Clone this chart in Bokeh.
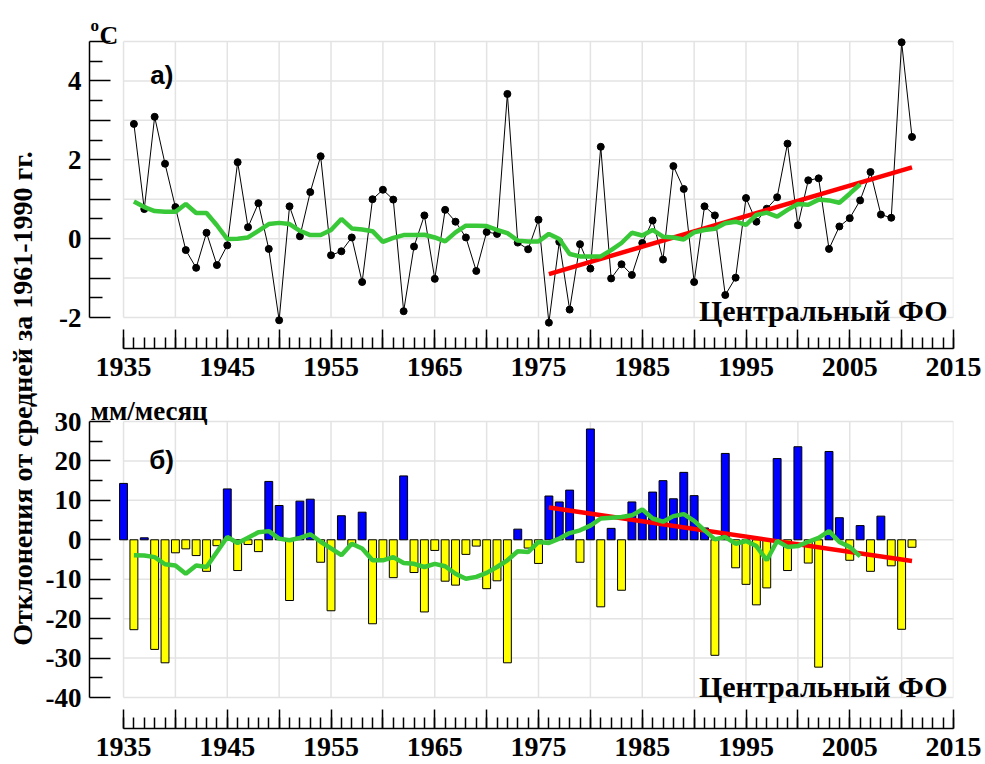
import math

from bokeh.plotting import figure
from bokeh.models import LinearAxis, FixedTicker, Range1d, Label
from bokeh.layouts import row, column
from bokeh.embed import file_html
from bokeh.resources import INLINE
from bokeh.core.properties import value

# ---- data: annual anomalies relative to the 1961-1990 mean, Central Federal District ----
temp_years = list(range(1936, 2012))
temp_anom = [
    2.91, 0.75, 3.09, 1.90, 0.80, -0.29, -0.74, 0.15, -0.67, -0.17,
    1.94, 0.29, 0.90, -0.26, -2.07, 0.82, 0.06, 1.18, 2.09, -0.42,
    -0.32, 0.03, -1.10, 1.00, 1.24, 0.99, -1.84, -0.20, 0.59, -1.02,
    0.73, 0.43, 0.03, -0.82, 0.17, 0.12, 3.67, -0.10, -0.27, 0.48,
    -2.13, -0.08, -1.80, -0.14, -0.76, 2.33, -1.01, -0.65, -0.92, -0.11,
    0.46, -0.53, 1.84, 1.26, -1.10, 0.82, 0.59, -1.43, -0.99, 1.03,
    0.43, 0.76, 1.05, 2.41, 0.34, 1.48, 1.53, -0.26, 0.31, 0.52,
    0.97, 1.69, 0.61, 0.53, 4.98, 2.58,
]
smooth_years = list(range(1936, 2007))
temp_smooth = [
    0.94, 0.80, 0.70, 0.68, 0.68, 0.88, 0.65, 0.65, 0.34, -0.01,
    0.00, 0.03, 0.20, 0.37, 0.40, 0.37, 0.20, 0.09, 0.09, 0.22,
    0.50, 0.26, 0.23, 0.19, -0.08, 0.02, 0.09, 0.09, 0.10, 0.03,
    -0.07, 0.16, 0.33, 0.33, 0.32, 0.22, 0.14, -0.05, -0.07, -0.07,
    0.12, -0.01, -0.39, -0.45, -0.45, -0.45, -0.29, -0.11, 0.15, 0.08,
    0.22, 0.05, 0.03, -0.02, 0.16, 0.22, 0.25, 0.39, 0.43, 0.35,
    0.60, 0.66, 0.56, 0.73, 0.88, 0.86, 0.99, 0.97, 0.91, 1.14,
    1.38,
]
trend_years = [1976, 2011]
temp_trend = [-0.90, 1.81]

precip_years = list(range(1935, 2012))
precip_anom = [
    14.3, -22.8, 0.5, -27.8, -31.2, -3.3, -2.3, -4.0, -8.0, -1.5,
    12.9, -7.8, -1.2, -3.0, 14.8, 8.7, -15.4, 9.8, 10.3, -5.7,
    -18.0, 6.1, -1.5, 7.0, -21.3, -5.2, -9.6, 16.2, -8.3, -18.3,
    -2.7, -10.5, -11.5, -3.7, -1.6, -12.4, -10.4, -31.2, 2.7, -2.1,
    -6.0, 11.1, 9.6, 12.6, -5.7, 28.1, -17.0, 2.9, -12.8, 9.6,
    7.1, 12.1, 15.0, 10.4, 17.1, 11.2, 3.0, -29.3, 21.9, -7.1,
    -11.3, -16.5, -12.2, 20.6, -7.8, 23.6, -5.9, -32.3, 22.4, 5.6,
    -5.2, 3.6, -8.0, 6.0, -6.6, -22.7, -1.9,
]
precip_smooth = [
    -3.9, -4.0, -4.4, -6.2, -6.5, -8.6, -6.5, -6.9, -3.1, 0.7,
    -0.8, 0.5, 1.9, 2.2, 0.3, -0.1, 0.5, 1.4, -0.5, -2.2,
    -3.9, -1.0, -2.2, -5.2, -5.2, -4.4, -5.9, -6.1, -6.9, -6.1,
    -6.7, -8.6, -9.9, -9.4, -8.4, -6.9, -5.2, -2.9, -3.1, -0.55,
    -0.8, 0.3, 1.7, 2.4, 3.6, 5.4, 5.6, 5.8, 6.2, 7.7,
    5.4, 4.6, 6.0, 6.5, 4.8, 2.4, 0.1, 0.7, -1.0, -0.3,
    -1.6, -5.2, -0.3, -1.8, -1.6, -0.5, 0.5, 2.2, -0.55, -1.8,
    -4.2,
]
precip_trend = [8.2, -5.4]

year_first, year_last = 1935, 2015
x_major = list(range(1935, 2016, 5))
x_minor = list(range(1935, 2016))
x_labelled = list(range(1935, 2016, 10))

temp_major = list(range(-2, 6))
temp_minor = [v + 0.5 for v in range(-2, 5)]
temp_labelled = [-2, 0, 2, 4]

precip_major = list(range(-40, 31, 10))
precip_minor = list(range(-35, 30, 10))

region_name = "Центральный ФО"
y_title = "Отклонения от средней за 1961-1990 гг."

GRID = "#e3e3e3"
GREEN = "#38c838"
RED = "#ff0000"
SERIF = "Liberation Serif"
PANEL_W = 945


def style_axis(ax, tick_in, minor_in, font_size):
    ax.axis_line_color = "black"
    ax.axis_line_width = 1.5
    ax.major_tick_in = tick_in
    ax.major_tick_out = 0
    ax.minor_tick_in = minor_in
    ax.minor_tick_out = 0
    ax.major_tick_line_color = "black"
    ax.minor_tick_line_color = "black"
    ax.major_tick_line_width = 1.5
    ax.minor_tick_line_width = 1.5
    ax.major_label_text_font = SERIF
    ax.major_label_text_font_style = "bold"
    ax.major_label_text_font_size = font_size
    ax.major_label_text_color = "black"


def tick_text(ticks, labelled):
    # plain hyphen for negatives, blanks for unlabelled major ticks
    return {v: (str(v) if v in labelled else " ") for v in ticks}


def make_panel(height, borders, x_start, y_start, y_end, y_lo, y_hi, y_major, y_minor, y_labelled):
    left, right, bottom = borders
    p = figure(width=PANEL_W, height=height,
               x_range=Range1d(x_start, year_last), y_range=Range1d(y_start, y_end),
               x_axis_type=None, y_axis_type=None,
               toolbar_location=None, output_backend="svg",
               min_border_left=left, min_border_right=right,
               min_border_top=0, min_border_bottom=bottom)
    p.outline_line_color = None
    p.background_fill_color = "white"
    p.border_fill_color = "white"

    # light grid, bounded to the plotting box
    p.segment(x0=x_major, y0=[y_lo] * len(x_major), x1=x_major, y1=[y_hi] * len(x_major),
              line_color=GRID, line_width=1.5, level="underlay")
    p.segment(x0=[year_first] * len(y_major), y0=y_major, x1=[year_last] * len(y_major), y1=y_major,
              line_color=GRID, line_width=1.5, level="underlay")

    # detached axes with inward ticks
    yax = LinearAxis(ticker=FixedTicker(ticks=y_major, minor_ticks=y_minor), bounds=(y_lo, y_hi))
    yax.major_label_overrides = tick_text(y_major, y_labelled)
    style_axis(yax, 21, 13, "27px")
    yax.major_label_standoff = 8
    p.add_layout(yax, "left")

    xax = LinearAxis(ticker=FixedTicker(ticks=x_major, minor_ticks=x_minor), bounds=(year_first, year_last))
    xax.major_label_overrides = tick_text(x_major, x_labelled)
    style_axis(xax, 19, 11, "28px")
    xax.major_label_standoff = 2
    p.add_layout(xax, "below")
    return p


def note(p, x, y, text, size, font=SERIF, align="left"):
    p.add_layout(Label(x=x, y=y, text=text, text_font=font, text_font_style="bold",
                       text_font_size=size, text_color="black", text_align=align,
                       text_baseline="alphabetic"))


# ---- a) air temperature ----
top = make_panel(388, (46, 32, 40), 1931.72, -2.786, 6.04, -2, 5,
                 temp_major, temp_minor, temp_labelled)
top.line(temp_years, temp_anom, line_color="black", line_width=1)
top.scatter(temp_years, temp_anom, size=7, fill_color="black", line_color="black")
top.line(trend_years, temp_trend, line_color=RED, line_width=4.5)
top.line(smooth_years, temp_smooth, line_color=GREEN, line_width=4.5)

note(top, 1931.82, 5.406, "o", "17px")
note(top, 1932.68, 5.152, "C", "26px")
note(top, 1937.58, 4.163, "а)", "26px", font="Liberation Sans")
note(top, 2014.43, -1.822, region_name, "30px", align="right")

# ---- б) precipitation ----
bottom = make_panel(376, (49, 29, 36), 1931.72, -47.86, 38.37, -40, 30,
                    precip_major, precip_minor, precip_major)
bar_colors = ["#0000ff" if v >= 0 else "#ffff00" for v in precip_anom]
bottom.vbar(x=precip_years, top=precip_anom, bottom=0, width=0.76,
            fill_color=bar_colors, line_color="black", line_width=1)
bottom.line(trend_years, precip_trend, line_color=RED, line_width=4.5)
bottom.line(smooth_years, precip_smooth, line_color=GREEN, line_width=4.5)

note(bottom, 1931.82, 32.54, "мм/месяц", "27px")
note(bottom, 1937.48, 20.11, "б)", "26px", font="Liberation Sans")
note(bottom, 2014.43, -37.21, region_name, "30px", align="right")

# ---- shared vertical title ----
side = figure(width=40, height=764, x_range=Range1d(0, 40), y_range=Range1d(0, 764),
              x_axis_type=None, y_axis_type=None, toolbar_location=None, output_backend="svg",
              min_border=0)
side.outline_line_color = None
side.text(x=[22], y=[366], text=[y_title], angle=math.pi / 2,
          text_font=value(SERIF), text_font_style="bold", text_font_size="28px",
          text_align="center", text_baseline="middle", text_color="black")

layout = row(side, column(top, bottom))

with open("out.html", "w") as f:
    f.write(file_html(layout, INLINE))
